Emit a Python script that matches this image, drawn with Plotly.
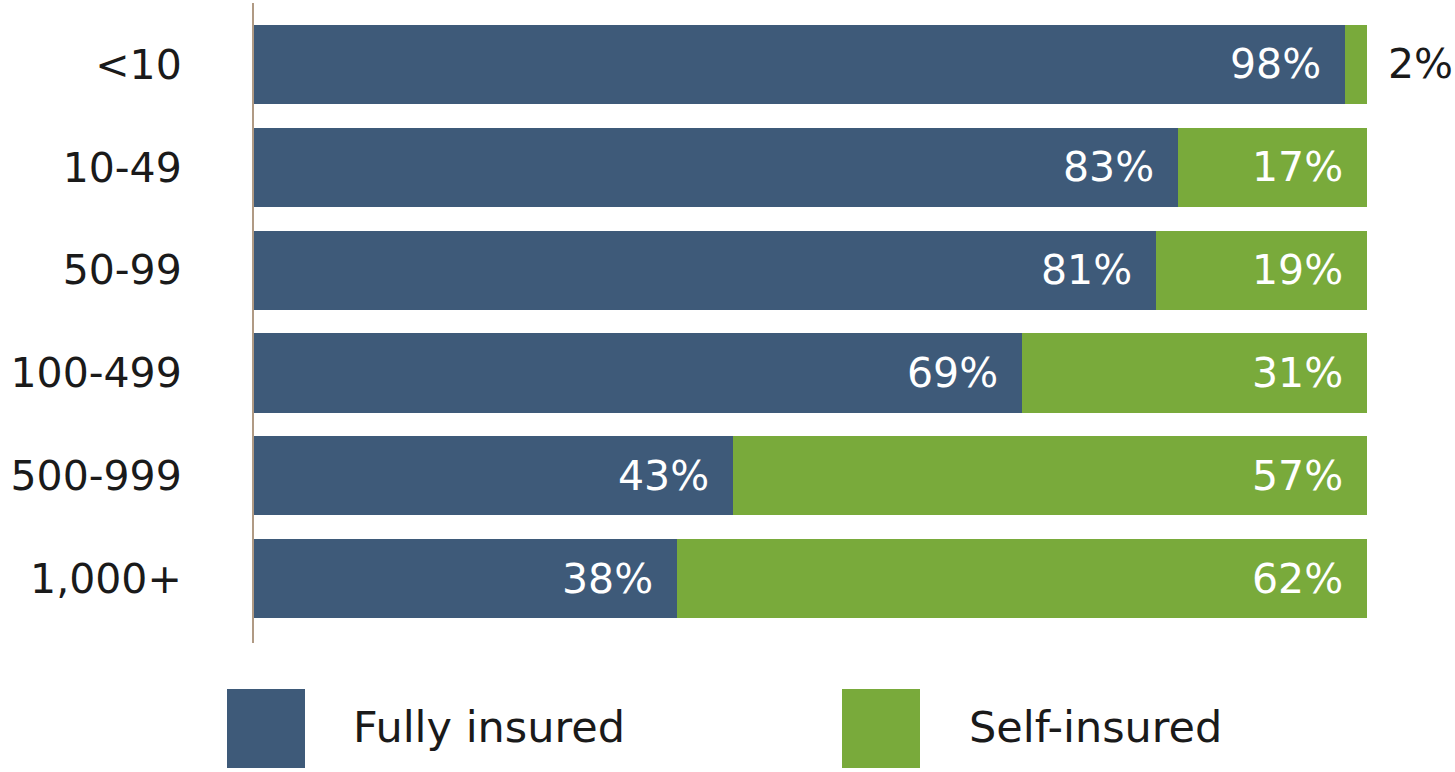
import plotly.graph_objects as go

categories = ["<10", "10-49", "50-99", "100-499", "500-999", "1,000+"]
fully_insured = [98, 83, 81, 69, 43, 38]
self_insured = [2, 17, 19, 31, 57, 62]
series_names = ["Fully insured", "Self-insured"]

BLUE = "#3e5a79"
GREEN = "#79aa3b"
FONT = "DejaVu Sans"

W, H = 1455, 772
L, R, T, B = 254, 88, 3, 129
pw, ph = W - L - R, H - T - B

def px_x(p):
    return (p - L) / pw

def px_y(p):
    return (H - B - p) / ph

fig = go.Figure()
fig.add_trace(go.Bar(y=categories, x=fully_insured, orientation="h", name=series_names[0],
                     marker=dict(color=BLUE, line=dict(width=0)), showlegend=False, hoverinfo="skip"))
fig.add_trace(go.Bar(y=categories, x=self_insured, orientation="h", name=series_names[1],
                     marker=dict(color=GREEN, line=dict(width=0)), showlegend=False, hoverinfo="skip"))

VAL_SIZE = 41
annotations = []
for c, f, s in zip(categories, fully_insured, self_insured):
    annotations.append(dict(x=f, y=c, xref="x", yref="y", text=f"{f}%", showarrow=False,
                            xanchor="right", xshift=-22, font=dict(family=FONT, size=VAL_SIZE, color="white")))
    if s >= 10:
        annotations.append(dict(x=f + s, y=c, xref="x", yref="y", text=f"{s}%", showarrow=False,
                                xanchor="right", xshift=-22, font=dict(family=FONT, size=VAL_SIZE, color="white")))
    else:
        annotations.append(dict(x=f + s, y=c, xref="x", yref="y", text=f"{s}%", showarrow=False,
                                xanchor="left", xshift=19, font=dict(family=FONT, size=VAL_SIZE, color="#1a1a1a")))

# legend drawn manually
shapes = [
    dict(type="rect", xref="paper", yref="paper", x0=px_x(227), x1=px_x(305), y0=px_y(768), y1=px_y(689),
         fillcolor=BLUE, line=dict(width=0)),
    dict(type="rect", xref="paper", yref="paper", x0=px_x(842), x1=px_x(920), y0=px_y(768), y1=px_y(689),
         fillcolor=GREEN, line=dict(width=0)),
]
annotations.append(dict(x=px_x(351), y=px_y(727), xref="paper", yref="paper", text=series_names[0],
                        showarrow=False, xanchor="left", yanchor="middle",
                        font=dict(family=FONT, size=43, color="#1a1a1a")))
annotations.append(dict(x=px_x(967), y=px_y(727), xref="paper", yref="paper", text=series_names[1],
                        showarrow=False, xanchor="left", yanchor="middle",
                        font=dict(family=FONT, size=43, color="#1a1a1a")))

fig.update_layout(
    width=W, height=H,
    margin=dict(l=L, r=R, t=T, b=B),
    barmode="stack",
    bargap=0.23,
    plot_bgcolor="white", paper_bgcolor="white",
    xaxis=dict(range=[0, 100], visible=False, fixedrange=True),
    yaxis=dict(categoryorder="array", categoryarray=categories, range=[5.627, -0.598],
               showline=True, linecolor="#b09a84", linewidth=2, showgrid=False, zeroline=False,
               ticks="", ticklabelstandoff=62, fixedrange=True,
               tickfont=dict(family=FONT, size=41, color="#1a1a1a")),
    annotations=annotations,
    shapes=shapes,
    showlegend=False,
)

fig.write_html("out.html", config={"displayModeBar": False},
               post_script="document.body.style.margin='0px';document.body.style.overflow='hidden';")
